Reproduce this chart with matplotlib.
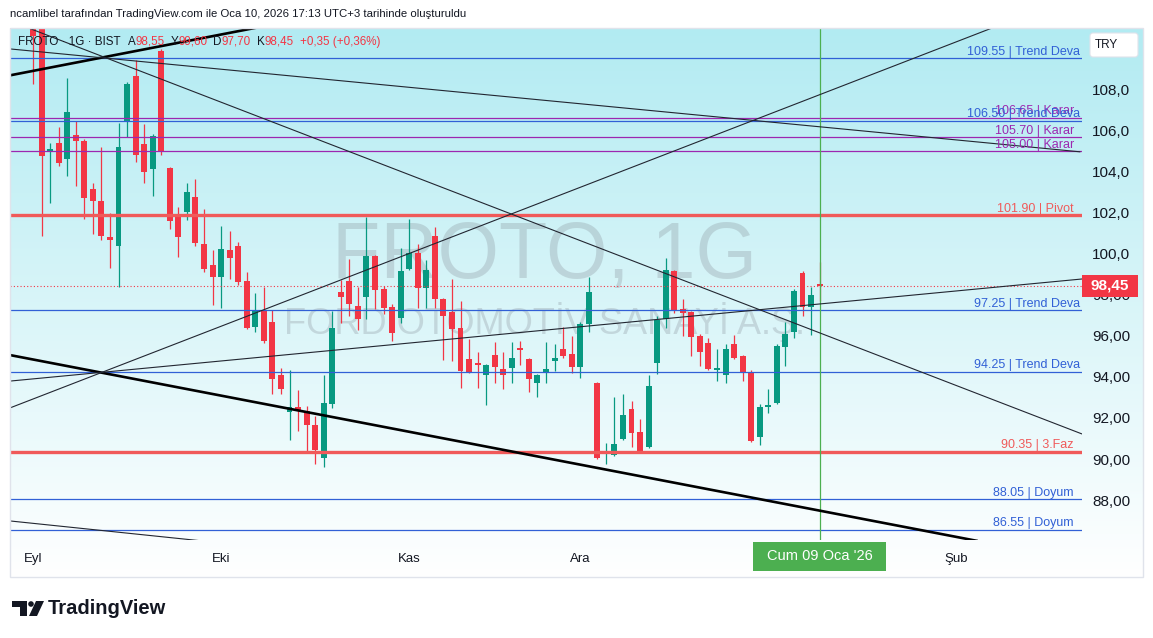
import matplotlib
matplotlib.use("Agg")
import matplotlib.pyplot as plt
import matplotlib.transforms as mtrans
from matplotlib.patches import Rectangle, FancyBboxPatch, Polygon, Circle
import numpy as np

W, H, DPI = 1153, 638, 100

plt.rcParams['font.family'] = ['Liberation Sans', 'DejaVu Sans']

# gunluk mumlar: bar 0 = 1 Eylul 2025 ... bar 92 = 9 Ocak 2026 (islem gunleri)
opens = [111.2, 111.4, 104.95, 105.4, 104.65, 105.8, 105.5, 103.15, 102.6, 100.85,
         100.4, 106.45, 108.7, 105.35, 104.15, 109.9, 104.2, 101.9, 102.05, 102.8,
         100.5, 99.45, 98.9, 100.2, 100.4, 98.7, 96.45, 97.2, 96.7, 94.1,
         92.3, 92.55, 92.35, 91.65, 90.05, 92.7, 98.15, 98.7, 97.45, 97.9,
         99.9, 98.3, 97.4, 96.9, 99.25, 100.05, 98.35, 100.9, 97.8, 97.15,
         96.4, 94.9, 94.7, 94.1, 95.05, 94.4, 94.45, 95.4, 94.9, 93.7,
         94.25, 94.8, 95.35, 95.1, 94.5, 96.6, 93.7, 90.25, 90.2, 91.0,
         92.45, 91.3, 90.6, 94.7, 96.85, 99.15, 97.3, 97.15, 96.0, 95.65,
         94.35, 94.1, 95.6, 95.0, 94.25, 91.05, 92.55, 92.75, 95.45, 96.2,
         99.05, 97.4, 98.55]
highs = [111.5, 111.6, 105.4, 106.2, 108.6, 106.5, 105.6, 103.45, 105.2, 102.0,
         106.4, 108.4, 109.45, 106.35, 105.85, 110.0, 104.25, 102.3, 103.45, 103.65,
         102.2, 100.2, 101.35, 101.1, 100.6, 99.1, 98.1, 98.4, 97.25, 94.45,
         94.35, 93.35, 92.6, 92.1, 94.1, 97.2, 98.75, 99.75, 98.4, 101.8,
         99.95, 98.45, 97.55, 100.3, 101.7, 100.5, 99.7, 101.3, 97.85, 98.8,
         97.7, 95.85, 95.2, 94.65, 95.7, 95.2, 95.7, 95.75, 94.95, 94.15,
         95.7, 95.6, 96.45, 96.0, 96.7, 98.9, 93.75, 90.8, 93.0, 93.15,
         92.85, 91.95, 94.1, 96.95, 99.8, 99.2, 97.8, 97.2, 96.1, 95.9,
         95.35, 95.6, 96.05, 95.05, 94.35, 92.7, 93.4, 95.6, 96.7, 98.3,
         99.15, 98.4, 99.6]
lows = [108.3, 100.9, 102.5, 104.3, 103.8, 103.3, 101.7, 100.95, 100.7, 99.3,
        98.4, 105.7, 104.5, 103.45, 102.85, 104.85, 101.2, 99.85, 101.65, 100.4,
        99.1, 97.5, 97.35, 98.8, 98.5, 96.35, 96.2, 95.65, 93.15, 93.15,
        90.95, 91.35, 90.4, 89.75, 89.6, 92.5, 96.65, 96.95, 96.3, 96.85,
        97.3, 97.05, 95.75, 96.65, 99.2, 97.35, 97.35, 97.35, 94.85, 94.8,
        93.45, 94.2, 93.45, 92.65, 93.7, 93.4, 93.7, 94.6, 93.25, 93.0,
        93.7, 94.3, 94.95, 94.2, 93.95, 96.2, 90.0, 89.75, 90.15, 90.95,
        90.6, 90.3, 90.55, 94.15, 96.4, 97.1, 96.0, 95.0, 94.55, 94.35,
        93.8, 93.7, 94.9, 93.8, 90.85, 90.7, 92.25, 92.7, 94.55, 95.9,
        96.95, 96.05, 97.7]
closes = [110.65, 104.8, 105.1, 104.45, 106.9, 105.5, 102.75, 102.6, 100.9, 100.7,
          105.2, 108.3, 104.85, 104.0, 105.75, 104.95, 101.6, 100.85, 103.0, 100.55,
          99.25, 98.9, 100.25, 99.8, 98.65, 96.4, 97.25, 95.75, 93.9, 93.4,
          92.55, 92.35, 91.65, 90.45, 92.75, 96.4, 97.9, 97.55, 96.85, 99.9,
          98.25, 97.35, 96.15, 99.15, 100.05, 98.35, 99.2, 97.8, 96.95, 96.35,
          94.3, 94.25, 94.6, 94.6, 94.5, 94.1, 94.95, 95.3, 93.9, 94.1,
          94.4, 94.95, 95.0, 94.5, 96.6, 98.15, 90.05, 90.35, 90.75, 92.15,
          91.25, 90.4, 93.55, 96.8, 99.2, 97.25, 97.1, 95.95, 95.2, 94.4,
          94.4, 95.35, 94.95, 94.2, 90.9, 92.55, 92.6, 95.5, 96.1, 98.2,
          97.4, 98.0, 98.45]

# yatay seviyeler
levels = [109.55, 106.65, 106.50, 105.70, 105.00, 101.90, 97.25, 94.25, 90.35, 88.05, 86.55]
level_names = ["Trend Deva", "Karar", "Trend Deva", "Karar", "Karar", "Pivot",
               "Trend Deva", "Trend Deva", "3.Faz", "Doyum", "Doyum"]

# trend cizgileri (bar, fiyat) -> (bar, fiyat)
trend_start = [(-2.7, 95.07), (-2.7, 108.71), (-2.7, 111.37), (-2.7, 110.0),
               (-2.7, 92.49), (-2.7, 93.8), (-2.7, 86.98)]
trend_end = [(110.5, 86.0), (26.55, 111.07), (122.7, 91.22), (122.5, 104.98),
             (113.1, 111.17), (122.7, 98.78), (21.05, 85.95)]
trend_thick = [True, True, False, False, False, False, False]

month_pos = [0, 22, 44, 64, 108]
month_labels = ["Eyl", "Eki", "Kas", "Ara", "Şub"]
price_ticks = [88, 90, 92, 94, 96, 98, 100, 102, 104, 106, 108]

last_bar = 92
last_price = 98.45
last_date = "Cum 09 Oca '26"

RED = '#f23645'
GREEN = '#089981'
BLUE = '#3160d6'
PURPLE = '#9c27b0'
LVLRED = '#f05a5a'
DARK = '#131722'

fig = plt.figure(figsize=(W / DPI, H / DPI), dpi=DPI)
fig.patch.set_facecolor('white')

def fx(x):
    return x / W

def fy(y):
    return 1 - y / H

# arka plan gradyani
bg = fig.add_axes([fx(10), fy(577), 1133 / W, 549 / H])
t = np.linspace(0, 1, 256)[:, None]
top = np.array([178, 235, 242]) / 255.0
img = top[None, None, :] * (1 - t[:, :, None]) + np.ones(3)[None, None, :] * t[:, :, None]
bg.imshow(img, aspect='auto', extent=[0, 1, 0, 1], origin='upper')
bg.axis('off')

ax = fig.add_axes([fx(10), fy(540), 1072 / W, 512 / H])
ax.set_facecolor('none')
ax.set_xlim(-23 / 8.55, 1049 / 8.55)
ax.set_ylim(86.05, 111.02)
for s in ax.spines.values():
    s.set_visible(False)

# filigran
ax.text(0.499, 0.551, "FROTO, 1G", transform=ax.transAxes, ha='center', va='center',
        fontsize=57, color='#787b86', alpha=0.25, zorder=0)
ax.text(0.499, 0.426, "FORD OTOMOTİV SANAYİ A.Ş.", transform=ax.transAxes, ha='center',
        va='center', fontsize=26, color='#787b86', alpha=0.25, zorder=0)

# mumlar
o = np.array(opens); h = np.array(highs); l = np.array(lows); c = np.array(closes)
idx = np.arange(len(o))
cols = np.where(c >= o, GREEN, RED)
ax.vlines(idx, l, h, colors=cols, lw=0.9, zorder=2)
ax.bar(idx, np.maximum(np.abs(c - o), 0.07), bottom=np.minimum(o, c), width=0.7,
       color=cols, linewidth=0, zorder=2.1)

# seviyeler
bt = mtrans.blended_transform_factory(ax.transAxes, ax.transData)
for lvl, name in zip(levels, level_names):
    if name.startswith("Trend") or name == "Doyum":
        col, lw = BLUE, 0.9
    elif name == "Karar":
        col, lw = PURPLE, 0.9
    else:
        col, lw = LVLRED, 2.4
    ax.axhline(lvl, color=col, lw=lw, zorder=3)
    xr = 0.9983 if name.startswith("Trend") else 0.9925
    ax.annotate(f"{lvl:.2f} | {name}", xy=(xr, lvl), xycoords=bt, xytext=(0, 2.5),
                textcoords='offset points', ha='right', va='baseline', fontsize=9,
                color=col, zorder=6)

# trend cizgileri
for (x0, y0), (x1, y1), thick in zip(trend_start, trend_end, trend_thick):
    ax.plot([x0, x1], [y0, y1], color='black' if thick else '#222631',
            lw=1.9 if thick else 0.8, zorder=4, solid_capstyle='butt')

# son fiyat
ax.axhline(last_price, color=RED, lw=0.8, ls=(0, (1, 2)), zorder=3)
ax.axvline(last_bar, color='#4caf50', lw=0.9, zorder=3.5)

# fiyat ekseni
ax.yaxis.tick_right()
ax.set_yticks(price_ticks)
ax.set_yticklabels([(f"{v:.1f}" if v >= 100 else f"{v:.2f}").replace('.', ',') for v in price_ticks])
ax.tick_params(axis='y', length=0, pad=7.2, labelsize=11, labelcolor=DARK)
ax.set_xticks([])

ax.add_patch(Rectangle((1.0, last_price - 11 / 20.5), 56 / 1072, 22 / 20.5, transform=bt,
                       facecolor=RED, edgecolor='none', clip_on=False, zorder=10))
ax.text(1.0 + 28 / 1072, last_price, f"{last_price:.2f}".replace('.', ','), transform=bt,
        ha='center', va='center', color='white', fontsize=11, fontweight='bold',
        clip_on=False, zorder=11)

# zaman ekseni
tb = mtrans.blended_transform_factory(ax.transData, ax.transAxes)
for p, lab in zip(month_pos, month_labels):
    ax.text(p, -19 / 512, lab, transform=tb, ha='center', va='center', fontsize=9.5,
            color=DARK, clip_on=False)
ax.add_patch(Rectangle((last_bar - 66.5 / 8.55, -31 / 512), 133 / 8.55, 29 / 512, transform=tb,
                       facecolor='#4caf50', edgecolor='none', clip_on=False, zorder=10))
ax.text(last_bar, -16.5 / 512, last_date, transform=tb, ha='center', va='center',
        color='white', fontsize=10.5, clip_on=False, zorder=11)

# panel cercevesi
fig.add_artist(Rectangle((fx(10), fy(577)), 1133 / W, 549 / H, transform=fig.transFigure,
                         facecolor='none', edgecolor='#e0e3eb', lw=1))

# TRY kutusu
ident = mtrans.IdentityTransform()
fig.add_artist(FancyBboxPatch((1090, H - 57), 48, 24, boxstyle='round,pad=0,rounding_size=3',
                              transform=ident, facecolor='white', edgecolor='#e0e3eb', lw=0.8))
fig.text(fx(1095), fy(45), "TRY", fontsize=8.5, color=DARK, va='center', ha='left')

# ust bilgi
fig.text(fx(10), fy(14), "ncamlibel tarafından TradingView.com ile Oca 10, 2026 17:13 UTC+3 tarihinde oluşturuldu",
         fontsize=8.2, color=DARK, va='center', ha='left')

renderer = fig.canvas.get_renderer()
runs = [("FROTO · 1G · BIST", DARK, 0), ("A", DARK, 7), ("98,55", RED, 0),
        ("Y", DARK, 6), ("99,60", RED, 0), ("D", DARK, 6), ("97,70", RED, 0),
        ("K", DARK, 6), ("98,45", RED, 0), ("+0,35 (+0,36%)", RED, 6)]
xpos = 18
for s, col, gap in runs:
    xpos += gap
    tx = fig.text(fx(xpos), fy(42), s, fontsize=8.4, color=col, va='center', ha='left', zorder=20)
    xpos += tx.get_window_extent(renderer).width

# TradingView logosu
fig.add_artist(Polygon([(12, H - 601), (27, H - 601), (27, H - 616), (20, H - 616),
                        (20, H - 607), (12, H - 607)], closed=True, transform=ident,
                       facecolor=DARK, edgecolor='none'))
fig.add_artist(Circle((31, H - 604), 2.8, transform=ident, facecolor=DARK, edgecolor='none'))
fig.add_artist(Polygon([(36, H - 601), (44, H - 601), (37, H - 616), (29, H - 616)], closed=True,
                       transform=ident, facecolor=DARK, edgecolor='none'))
fig.text(fx(48), fy(608), "TradingView", fontsize=14.5, fontweight='bold', color=DARK,
         va='center', ha='left')

fig.savefig("out.png", dpi=DPI, facecolor='white')
